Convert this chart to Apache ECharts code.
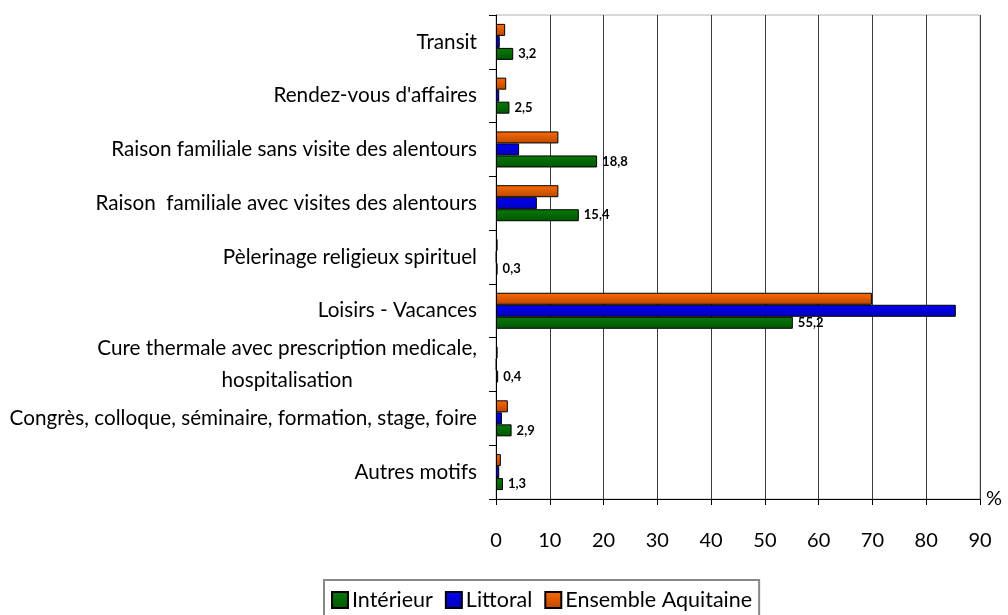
<!DOCTYPE html>
<html>
<head>
<meta charset="utf-8">
<script src="https://cdn.jsdelivr.net/npm/echarts@6/dist/echarts.min.js"></script>
<style>html,body{margin:0;padding:0;background:#fff}#c{width:1008px;height:615px}</style>
</head>
<body>
<div id="c"></div>
<script>
// categories listed bottom to top
var categories = [
  "Autres motifs",
  "Congrès, colloque, séminaire, formation, stage, foire",
  "Cure thermale avec prescription medicale,\nhospitalisation",
  "Loisirs - Vacances",
  "Pèlerinage religieux spirituel",
  "Raison  familiale avec visites des alentours",
  "Raison familiale sans visite des alentours",
  "Rendez-vous d'affaires",
  "Transit"
];
var interieur = [1.3, 2.9, 0.4, 55.2, 0.3, 15.4, 18.8, 2.5, 3.2];
var littoral  = [0.6, 1.1, 0.1, 85.5, 0.1, 7.6, 4.3, 0.6, 0.7];
var ensemble  = [0.9, 2.2, 0.3, 69.9, 0.3, 11.6, 11.6, 1.9, 1.7];
var xTicks = [0, 10, 20, 30, 40, 50, 60, 70, 80, 90];

var FONT = 'Lato';
var LABEL_SIZE = 20.7;

function measure(t) {
  var cv = document.createElement('canvas').getContext('2d');
  cv.font = LABEL_SIZE + 'px ' + FONT;
  return cv.measureText(t).width;
}

var chart = echarts.init(document.getElementById('c'));
function grad(top, bottom) {
  return new echarts.graphic.LinearGradient(0, 0, 0, 1, [
    {offset: 0, color: top}, {offset: 1, color: bottom}
  ]);
}
var barBorder = {borderColor: '#000', borderWidth: 1};
chart.setOption({
  animation: false,
  textStyle: {fontFamily: FONT},
  grid: {left: 496, right: 28, top: 15, bottom: 116, show: true, borderColor: '#b0b0b0', borderWidth: 1},
  legend: {
    data: ['Intérieur', 'Littoral', 'Ensemble Aquitaine'],
    left: 324, top: 580,
    icon: 'rect', itemWidth: 16, itemHeight: 16, itemGap: 12,
    padding: [9, 7, 9, 7],
    borderColor: '#888', borderWidth: 2,
    textStyle: {fontSize: 21.5, color: '#000', fontFamily: FONT, padding: [0, 0, 0, -1]}
  },
  xAxis: {
    type: 'value', min: 0, max: 90, interval: 10,
    name: '%', nameLocation: 'end', nameGap: 6,
    nameTextStyle: {fontSize: 20, color: '#000', verticalAlign: 'middle'},
    axisLine: {show: true, lineStyle: {color: '#000', width: 1}},
    axisTick: {show: true, length: 6, lineStyle: {color: '#000'}},
    axisLabel: {fontSize: 20, color: '#000', margin: 32,
      formatter: function (v) { return xTicks.indexOf(v) >= 0 ? String(v) : ''; }},
    splitLine: {show: true, lineStyle: {color: '#3a3a3a', width: 1}}
  },
  yAxis: {
    type: 'category', data: categories,
    axisLine: {show: true, lineStyle: {color: '#000', width: 1}},
    axisTick: {show: true, length: 7, lineStyle: {color: '#000'}},
    axisLabel: {
      fontSize: LABEL_SIZE, color: '#000', margin: 19, lineHeight: 32,
      formatter: function (v) {
        if (v.indexOf('\n') < 0) return v;
        var lines = v.split('\n');
        return lines.map(function (l) { return '{w|' + l + '}'; }).join('\n');
      },
      rich: {
        w: {fontSize: LABEL_SIZE, fontFamily: FONT, color: '#000', lineHeight: 32, align: 'center',
            width: measure("Cure thermale avec prescription medicale,")}
      }
    }
  },
  series: [
    {
      name: 'Ensemble Aquitaine', type: 'bar', data: ensemble,
      barGap: '0%', barCategoryGap: '33%',
      itemStyle: Object.assign({color: grad('#ff6a00', '#b84800')}, barBorder)
    },
    {
      name: 'Littoral', type: 'bar', data: littoral,
      barGap: '0%', barCategoryGap: '33%',
      itemStyle: Object.assign({color: grad('#0000f5', '#0000b8')}, barBorder)
    },
    {
      name: 'Intérieur', type: 'bar', data: interieur,
      barGap: '0%', barCategoryGap: '33%',
      itemStyle: Object.assign({color: grad('#0a7a0a', '#005500')}, barBorder),
      label: {show: true, position: 'right', distance: 5, fontSize: 13, fontWeight: 'bold', color: '#000',
        fontFamily: FONT,
        formatter: function (p) { return String(p.value).replace('.', ','); }}
    }
  ]
});
</script>
</body>
</html>
